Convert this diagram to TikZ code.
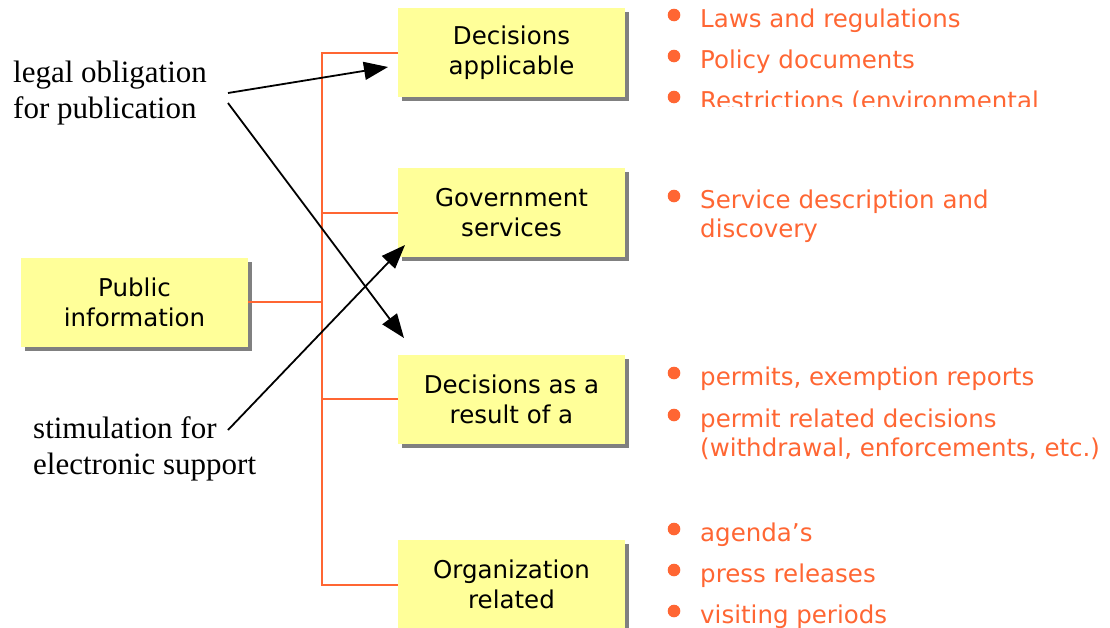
\documentclass[tikz,border=0pt]{standalone}
\usepackage{fontspec}
\setmainfont{Liberation Serif}
\newfontfamily\boxfont{DejaVu Sans}
\usepackage{xcolor}
\usetikzlibrary{arrows.meta, shadows}
\definecolor{boxyellow}{HTML}{FFFF99}
\definecolor{listorange}{HTML}{FF6633}

\tikzset{
	infobox/.style={fill=boxyellow, minimum width=227pt, minimum height=89pt, inner sep=0pt,
		align=center, font=\boxfont\fontsize{24.5}{30}\selectfont,
		drop shadow={shadow xshift=4pt, shadow yshift=-4pt, fill=gray, opacity=1}},
	listitem/.style={anchor=base west, inner sep=0pt, align=left, text=listorange,
		font=\boxfont\fontsize{24.5}{29}\selectfont},
	note/.style={anchor=base west, inner sep=0pt, align=left, font=\fontsize{31}{36}\selectfont},
	branch/.style={draw=listorange, line width=2pt},
	pointer/.style={line width=1.8pt, -{Triangle[length=24pt, width=18pt]}}
}

\begin{document}
\begin{tikzpicture}[x=1pt, y=-1pt]
	\useasboundingbox (0,0) rectangle (1110,627);
	\clip (0,0) rectangle (1110,627);
	% boxes
	\node[infobox] (public) at (134.5,302) {Public\\information};
	\node[infobox] (applicable) at (511.5,52.5) {Decisions\\applicable};
	\node[infobox] (services) at (511.5,212.5) {Government\\services};
	\node[infobox] (result) at (511.5,399) {Decisions as a\\result of a};
	\node[infobox] (organization) at (511.5,584.5) {Organization\\related};
	% orange tree
	\coordinate (spine) at (322,302);
	\draw[branch] (public.east) -- (spine);
	\draw[branch] (applicable.west) -| (spine) |- (organization.west);
	\draw[branch] (services.west) -- (services.west -| spine);
	\draw[branch] (result.west) -- (result.west -| spine);
	% lists (base is the last line)
	\node[listitem] (laws) at (700,27) {Laws and regulations};
	\node[listitem] (policy) at (700,68) {Policy documents};
	\begin{scope}
		\clip (640,0) rectangle (1110,106);
		\node[listitem] (restrict) at (700,109) {Restrictions (environmental};
	\end{scope}
	\node[listitem] (service) at (700,237) {Service description and\\discovery};
	\node[listitem] (permits) at (700,385) {permits, exemption reports};
	\node[listitem] (related) at (700,456) {permit related decisions\\(withdrawal, enforcements, etc.)};
	\node[listitem] (agenda) at (700,541) {agenda’s};
	\node[listitem] (press) at (700,582) {press releases};
	\node[listitem] (visiting) at (700,623) {visiting periods};
	\foreach \item/\up in {laws/0, policy/0, restrict/0, service/29, permits/0, related/29, agenda/0, press/0, visiting/0}
		\fill[listorange] (\item.base west) ++(-26,-12-\up) circle (6.3pt);
	% notes and arrows
	\node[note] (legal) at (13,118) {legal obligation\\for publication};
	\node[note] (stimulation) at (33,474) {stimulation for\\electronic support};
	\coordinate (legal tail a) at (228,93);
	\coordinate (legal tail b) at (228,103);
	\coordinate (stimulation tail) at (228,430);
	\coordinate (tip applicable) at (388,67);
	\coordinate (tip result) at (404,338);
	\coordinate (tip services) at (405,245);
	\draw[pointer] (legal tail a) -- (tip applicable);
	\draw[pointer] (legal tail b) -- (tip result);
	\draw[pointer] (stimulation tail) -- (tip services);
\end{tikzpicture}
\end{document}
